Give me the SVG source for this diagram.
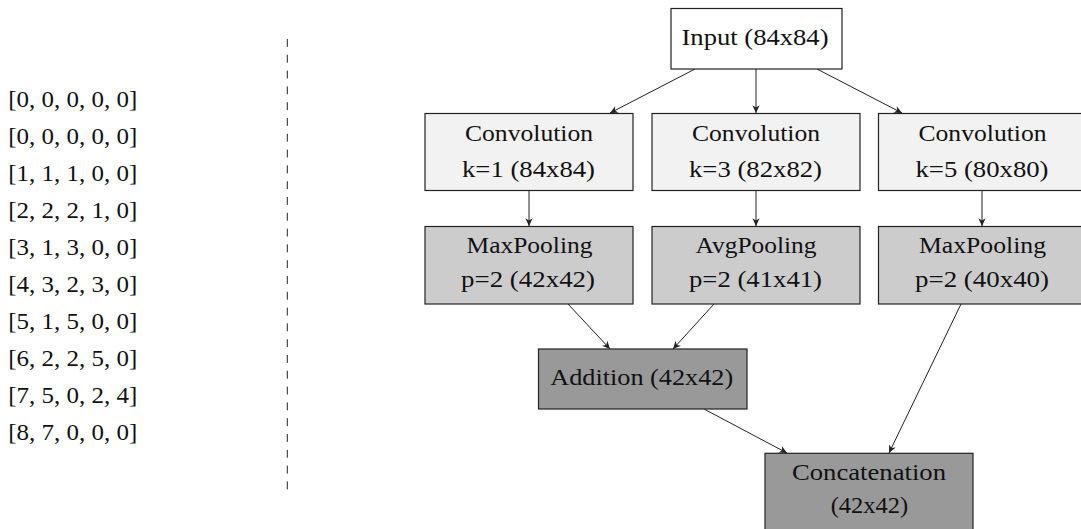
<svg xmlns="http://www.w3.org/2000/svg" width="1081" height="529" viewBox="0 0 1081 529">
<style>
  text { font-family: 'Liberation Serif', 'Times New Roman', serif; font-size: 23.5px; fill: #111; }
  .c { text-anchor: middle; }
  .box { stroke: #222; stroke-width: 1.2; }
  .w { fill: #ffffff; }
  .l { fill: #f2f2f2; }
  .m { fill: #cccccc; }
  .d { fill: #999999; }
  .edge { stroke: #222; stroke-width: 1; fill: none; marker-end: url(#ah); }
</style>
<defs>
  <marker id="ah" markerUnits="userSpaceOnUse" markerWidth="10" markerHeight="10" viewBox="-8 -4 9 8" refX="0" refY="0" orient="auto">
    <path d="M0,0 L-7,-3.3 L-5,0 L-7,3.3 z" fill="#222"/>
  </marker>
</defs>
<rect width="1081" height="529" fill="#ffffff"/>

<g id="matrix">
  <text x="8.3" y="106.7" textLength="129" lengthAdjust="spacingAndGlyphs">[0, 0, 0, 0, 0]</text>
  <text x="8.3" y="143.7" textLength="129" lengthAdjust="spacingAndGlyphs">[0, 0, 0, 0, 0]</text>
  <text x="8.3" y="180.7" textLength="129" lengthAdjust="spacingAndGlyphs">[1, 1, 1, 0, 0]</text>
  <text x="8.3" y="217.7" textLength="129" lengthAdjust="spacingAndGlyphs">[2, 2, 2, 1, 0]</text>
  <text x="8.3" y="254.7" textLength="129" lengthAdjust="spacingAndGlyphs">[3, 1, 3, 0, 0]</text>
  <text x="8.3" y="291.7" textLength="129" lengthAdjust="spacingAndGlyphs">[4, 3, 2, 3, 0]</text>
  <text x="8.3" y="328.7" textLength="129" lengthAdjust="spacingAndGlyphs">[5, 1, 5, 0, 0]</text>
  <text x="8.3" y="365.7" textLength="129" lengthAdjust="spacingAndGlyphs">[6, 2, 2, 5, 0]</text>
  <text x="8.3" y="402.7" textLength="129" lengthAdjust="spacingAndGlyphs">[7, 5, 0, 2, 4]</text>
  <text x="8.3" y="439.7" textLength="129" lengthAdjust="spacingAndGlyphs">[8, 7, 0, 0, 0]</text>
</g>

<g id="divider">
  <line x1="287.3" y1="39" x2="287.3" y2="494" stroke="#222" stroke-width="1" stroke-dasharray="7.9 7.9"/>
</g>

<g id="connectors">
  <line class="edge" x1="695" y1="69" x2="610" y2="113"/>
  <line class="edge" x1="756" y1="69" x2="756" y2="113"/>
  <line class="edge" x1="817" y1="69" x2="902" y2="113"/>
  <line class="edge" x1="529" y1="191" x2="529" y2="226"/>
  <line class="edge" x1="756" y1="191" x2="756" y2="226"/>
  <line class="edge" x1="982" y1="191" x2="982" y2="226"/>
  <line class="edge" x1="568" y1="304" x2="610" y2="349"/>
  <line class="edge" x1="714" y1="304" x2="673" y2="349"/>
  <line class="edge" x1="704" y1="409" x2="787" y2="453"/>
  <line class="edge" x1="961" y1="304" x2="889" y2="453"/>
</g>

<g id="input">
  <rect class="box w" x="671" y="8.5" width="171" height="60.5"/>
  <text class="c" x="755" y="45" textLength="147" lengthAdjust="spacingAndGlyphs">Input (84x84)</text>
</g>

<g id="conv1">
  <rect class="box l" x="425" y="113.5" width="208" height="77"/>
  <text class="c" x="529" y="140.7" textLength="128" lengthAdjust="spacingAndGlyphs">Convolution</text>
  <text class="c" x="528.5" y="177.3" textLength="133" lengthAdjust="spacingAndGlyphs">k=1 (84x84)</text>
</g>
<g id="conv2">
  <rect class="box l" x="652" y="113.5" width="208" height="77"/>
  <text class="c" x="756" y="140.7" textLength="128" lengthAdjust="spacingAndGlyphs">Convolution</text>
  <text class="c" x="755.5" y="177.3" textLength="133" lengthAdjust="spacingAndGlyphs">k=3 (82x82)</text>
</g>
<g id="conv3">
  <rect class="box l" x="878.5" y="113.5" width="208" height="77"/>
  <text class="c" x="982.5" y="140.7" textLength="128" lengthAdjust="spacingAndGlyphs">Convolution</text>
  <text class="c" x="982" y="177.3" textLength="133" lengthAdjust="spacingAndGlyphs">k=5 (80x80)</text>
</g>

<g id="pool1">
  <rect class="box m" x="425" y="226.5" width="208" height="77.5"/>
  <text class="c" x="529.5" y="253.3" textLength="126" lengthAdjust="spacingAndGlyphs">MaxPooling</text>
  <text class="c" x="528" y="286.7" textLength="134" lengthAdjust="spacingAndGlyphs">p=2 (42x42)</text>
</g>
<g id="pool2">
  <rect class="box m" x="652" y="226.5" width="208" height="77.5"/>
  <text class="c" x="756" y="253.3" textLength="121" lengthAdjust="spacingAndGlyphs">AvgPooling</text>
  <text class="c" x="755.5" y="286.7" textLength="133" lengthAdjust="spacingAndGlyphs">p=2 (41x41)</text>
</g>
<g id="pool3">
  <rect class="box m" x="878.5" y="226.5" width="208" height="77.5"/>
  <text class="c" x="982.5" y="253.3" textLength="127" lengthAdjust="spacingAndGlyphs">MaxPooling</text>
  <text class="c" x="982" y="286.7" textLength="134" lengthAdjust="spacingAndGlyphs">p=2 (40x40)</text>
</g>

<g id="addition">
  <rect class="box d" x="538.5" y="349" width="208.5" height="60"/>
  <text class="c" x="641.7" y="385" textLength="183" lengthAdjust="spacingAndGlyphs">Addition (42x42)</text>
</g>

<g id="concatenation">
  <rect class="box d" x="765" y="453.3" width="208" height="80"/>
  <text class="c" x="869" y="480" textLength="154" lengthAdjust="spacingAndGlyphs">Concatenation</text>
  <text class="c" x="869.5" y="513" textLength="77.6" lengthAdjust="spacingAndGlyphs">(42x42)</text>
</g>
</svg>
